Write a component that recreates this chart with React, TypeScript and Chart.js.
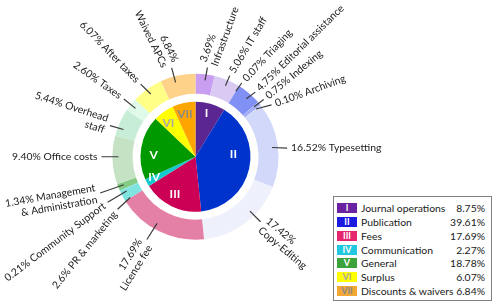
import React, { useEffect, useRef } from 'react';
import { Chart, registerables } from 'chart.js';

Chart.register(...registerables);

// ---------- data ----------
const groupNames = ['Journal operations', 'Publication', 'Fees', 'Communication', 'General', 'Surplus', 'Discounts & waivers'];
const groupNumerals = ['I', 'II', 'III', 'IV', 'V', 'VI', 'VII'];
const groupValues = [8.75, 39.61, 17.69, 2.27, 18.78, 6.07, 6.84];
const groupPctText = ['8.75%', '39.61%', '17.69%', '2.27%', '18.78%', '6.07%', '6.84%'];

const itemValues = [3.69, 5.06, 0.07, 4.75, 0.75, 0.1, 16.52, 17.42, 17.69, 2.06, 0.21, 1.34, 9.4, 5.44, 2.6, 6.07, 6.84];
const itemLabelLines = [
  ['3.69%', 'Infrastructure'],
  ['5.06% IT staff'],
  ['0.07% Triaging'],
  ['4.75% Editorial assistance'],
  ['0.75% Indexing'],
  ['0.10% Archiving'],
  ['16.52% Typesetting'],
  ['17.42%', 'Copy-Editing'],
  ['17.69%', 'Licence fee'],
  ['2.6% PR & marketing'],
  ['0.21% Community Support'],
  ['1.34% Management', '& Administration'],
  ['9.40% Office costs'],
  ['5.44% Overhead', 'staff'],
  ['2.60% Taxes'],
  ['6.07% After taxes'],
  ['6.84%', 'Waived APCs'],
];

// ---------- styles ----------
const groupColors = ['#5b2692', '#0033cc', '#cc0055', '#14c8d0', '#009900', '#ffff00', '#ffa500'];
const numeralColors = ['#ffffff', '#ffffff', '#ffffff', '#ffffff', '#ffffff', '#a8a8a8', '#8a8a8a'];
const legendColors = ['#6a22a0', '#1a1ae0', '#e6266e', '#22c8e0', '#3ca33c', '#ffff00', '#f2a735'];
const itemColors = [
  '#c99ef0', '#d9c9f3', '#9aa6f6', '#8090f4', '#a3aef7', '#b8c0f8', '#d2d8fa', '#eef0fc',
  '#e47fa6', '#7fe3e0', '#7fe3e0', '#84cc84', '#c5e2c5', '#c8edd6', '#e0faea', '#ffff88', '#ffd28a',
];
// label layout: leader angle offset (deg), end-angle extra offset, outer extension, text rotation (deg)
const lblAngleOff = [0.5, 0.5, 0, 1, -0.7, 0, 1.5, -7.7, 4, -3.5, -2, 0.3, 2.3, -3.7, 0, 0, -2.7];
const lblEndOff = [0.5, 0, 0.5, 1.5, 0.5, 4, 1.5, 0, 0.5, -2, -1, 0.5, 0, -0.7, 0, -1.5, 0];
const lblExt = [7, 5, 4, 5, 6, 9, 9, 9, 13, 11, 16, 19, 11, 8, 9, 8, 9];
const lblRot = [-70, -59, -47, -44.5, -39.5, -20, 0, 40, -58, -51, -37, -10, 0, 18, 35.5, 46, 64];
const numeralAngleOff = [-1.5, -16.4, 2.7, 2, -7, -3.6, -1.6];
const numeralRadius = [45, 38, 43, 46, 42, 43, 44];

const FONT = 'Lato, "Open Sans", sans-serif';

const labelPlugin = {
  id: 'ringLabels',
  afterDatasetsDraw(chart: any) {
    const ctx = chart.ctx as CanvasRenderingContext2D;
    const d2r = Math.PI / 180;
    const outer = chart.getDatasetMeta(0).data;
    ctx.save();
    outer.forEach((arc: any, i: number) => {
      const mid = (arc.startAngle + arc.endAngle) / 2 + lblAngleOff[i] * d2r;
      const endA = mid + lblEndOff[i] * d2r;
      const r0 = arc.outerRadius - 6;
      const r1 = arc.outerRadius + lblExt[i];
      const x0 = arc.x + r0 * Math.cos(mid);
      const y0 = arc.y + r0 * Math.sin(mid);
      const x1 = arc.x + r1 * Math.cos(endA);
      const y1 = arc.y + r1 * Math.sin(endA);
      ctx.strokeStyle = '#3a3a3a';
      ctx.lineWidth = 1.2;
      ctx.beginPath();
      ctx.moveTo(x0, y0);
      ctx.lineTo(x1, y1);
      ctx.stroke();
      const right = Math.cos(endA) >= -0.01;
      const lines = itemLabelLines[i];
      ctx.save();
      ctx.translate(x1, y1);
      ctx.rotate(lblRot[i] * d2r);
      ctx.font = `10.4px ${FONT}`;
      ctx.fillStyle = '#1a1a1a';
      ctx.textBaseline = 'middle';
      ctx.textAlign = right ? 'left' : 'right';
      const lh = 12;
      lines.forEach((t, k) => {
        ctx.fillText(t, right ? 4 : -4, (k - (lines.length - 1) / 2) * lh);
      });
      ctx.restore();
    });
    const inner = chart.getDatasetMeta(2).data;
    inner.forEach((arc: any, i: number) => {
      const mid = (arc.startAngle + arc.endAngle) / 2 + numeralAngleOff[i] * d2r;
      const r = numeralRadius[i];
      ctx.font = `bold 12px ${FONT}`;
      ctx.fillStyle = numeralColors[i];
      ctx.textAlign = 'center';
      ctx.textBaseline = 'middle';
      ctx.fillText(groupNumerals[i], arc.x + r * Math.cos(mid), arc.y + r * Math.sin(mid));
    });
    ctx.restore();
  },
};

export default function App() {
  const ref = useRef<HTMLCanvasElement | null>(null);
  useEffect(() => {
    if (!ref.current) return;
    const chart = new Chart(ref.current, {
      type: 'doughnut',
      data: {
        labels: itemLabelLines.map((l) => l.join(' ')),
        datasets: [
          { data: itemValues, backgroundColor: itemColors, borderWidth: 0, weight: 20 } as any,
          { data: [1], backgroundColor: ['rgba(0,0,0,0)'], borderWidth: 0, weight: 8 } as any,
          { data: groupValues, backgroundColor: groupColors, borderWidth: 0, weight: 55 } as any,
        ],
      },
      options: {
        responsive: false,
        animation: false,
        events: [],
        cutout: 0,
        layout: { padding: { left: 112.5, top: 73.7, right: 221.5, bottom: 67.3 } },
        plugins: { legend: { display: false }, tooltip: { enabled: false } },
      },
      plugins: [labelPlugin],
    });
    return () => chart.destroy();
  }, []);

  return (
    <div style={{ position: 'fixed', left: 0, top: 0, width: 500, height: 307, background: '#fff' }}>
      <canvas ref={ref} width={500} height={307} style={{ position: 'absolute', left: 0, top: 0, width: 500, height: 307 }} />
      <div
        style={{
          position: 'absolute', left: 333, top: 196, width: 159, height: 105, boxSizing: 'border-box',
          border: '1px solid #808080', fontFamily: FONT, fontSize: 10.4, color: '#1a1a1a', background: '#fff',
        }}
      >
        {groupNames.map((n, i) => (
          <div key={n} style={{ position: 'absolute', left: 0, right: 0, top: 4.5 + i * 13.73, height: 13.73, display: 'flex', alignItems: 'center' }}>
            <div style={{ marginLeft: 3, width: 20, height: 10, background: legendColors[i], color: numeralColors[i], fontSize: 9, lineHeight: '10px', textAlign: 'center', fontWeight: 'bold' }}>
              {groupNumerals[i]}
            </div>
            <div style={{ marginLeft: 4, flex: 1, whiteSpace: 'nowrap' }}>{n}</div>
            <div style={{ marginRight: 6, whiteSpace: 'nowrap' }}>{groupPctText[i]}</div>
          </div>
        ))}
      </div>
    </div>
  );
}
